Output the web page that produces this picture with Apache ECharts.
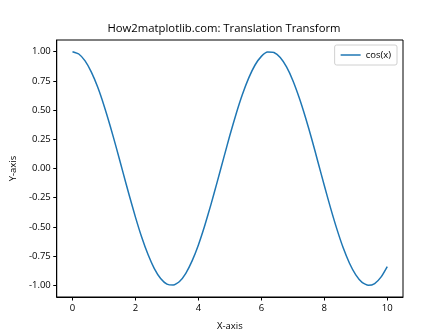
<!DOCTYPE html>
<html>
<head>
<meta charset="utf-8">
<script src="https://cdn.jsdelivr.net/npm/echarts@6/dist/echarts.min.js"></script>
<style>html,body{margin:0;padding:0;background:#fff}#c{width:448px;height:336px}</style>
</head>
<body>
<div id="c"></div>
<script>
var xValues = [0,0.2,0.4,0.6,0.8,1.0,1.2,1.4,1.6,1.8,2.0,2.2,2.4,2.6,2.8,3.0,3.2,3.4,3.6,3.8,4.0,4.2,4.4,4.6,4.8,5.0,5.2,5.4,5.6,5.8,6.0,6.2,6.4,6.6,6.8,7.0,7.2,7.4,7.6,7.8,8.0,8.2,8.4,8.6,8.8,9.0,9.2,9.4,9.6,9.8,10.0];
var cosValues = [1.000,0.980,0.921,0.825,0.697,0.540,0.362,0.170,-0.029,-0.227,-0.416,-0.589,-0.737,-0.857,-0.942,-0.990,-0.998,-0.967,-0.897,-0.791,-0.654,-0.490,-0.307,-0.112,0.087,0.284,0.469,0.635,0.776,0.886,0.960,0.997,0.993,0.950,0.869,0.754,0.608,0.439,0.253,0.054,-0.146,-0.339,-0.519,-0.679,-0.811,-0.911,-0.975,-1.000,-0.985,-0.930,-0.839];
var xTicks = [0,2,4,6,8,10];
var yTicks = [-1.00,-0.75,-0.50,-0.25,0.00,0.25,0.50,0.75,1.00];
var seriesName = 'cos(x)';

var FONT = '"Open Sans", "DejaVu Sans", sans-serif';
var chart = echarts.init(document.getElementById('c'), null, {renderer: 'canvas'});
var data = xValues.map(function (x, i) { return [x, cosValues[i]]; });
chart.setOption({
  animation: false,
  backgroundColor: '#fff',
  title: {
    text: 'How2matplotlib.com: Translation Transform',
    left: 'center', top: 18,
    textStyle: {fontFamily: FONT, fontSize: 11.3, fontWeight: 'normal', color: '#000'}
  },
  legend: {
    data: [{name: seriesName}],
    right: 51, top: 45,
    orient: 'vertical',
    icon: 'rect', itemWidth: 20, itemHeight: 1.5, itemGap: 4,
    borderColor: '#d0d0d0', borderWidth: 1, borderRadius: 2,
    padding: [5, 6, 5, 6],
    textStyle: {fontFamily: FONT, fontSize: 9.5, color: '#000'}
  },
  grid: {
    left: 56, right: 45, top: 40, bottom: 37,
    show: true, borderColor: '#000', borderWidth: 1, backgroundColor: 'transparent'
  },
  xAxis: {
    type: 'value', min: -0.5, max: 10.5,
    name: 'X-axis', nameLocation: 'middle', nameGap: 24,
    nameTextStyle: {fontFamily: FONT, fontSize: 9.5, color: '#000'},
    axisLine: {show: true, onZero: false, lineStyle: {color: '#000', width: 1}},
    axisTick: {show: true, length: 3.5, lineStyle: {color: '#000'}, customValues: xTicks},
    axisLabel: {fontFamily: FONT, fontSize: 9.5, color: '#000', margin: 6, customValues: xTicks,
      formatter: function (v) { return String(v); }},
    splitLine: {show: false}
  },
  yAxis: {
    type: 'value', min: -1.1, max: 1.1,
    name: 'Y-axis', nameLocation: 'middle', nameGap: 34, nameRotate: 90,
    nameTextStyle: {fontFamily: FONT, fontSize: 9.5, color: '#000'},
    axisLine: {show: true, onZero: false, lineStyle: {color: '#000', width: 1}},
    axisTick: {show: true, length: 3.5, lineStyle: {color: '#000'}, customValues: yTicks},
    axisLabel: {fontFamily: FONT, fontSize: 9.5, color: '#000', margin: 6, customValues: yTicks,
      formatter: function (v) { return v.toFixed(2); }},
    splitLine: {show: false}
  },
  series: [{
    name: seriesName, type: 'line', data: data,
    showSymbol: false, smooth: 0.2,
    lineStyle: {color: '#1f77b4', width: 1.5},
    itemStyle: {color: '#1f77b4'}
  }]
});
</script>
</body>
</html>
